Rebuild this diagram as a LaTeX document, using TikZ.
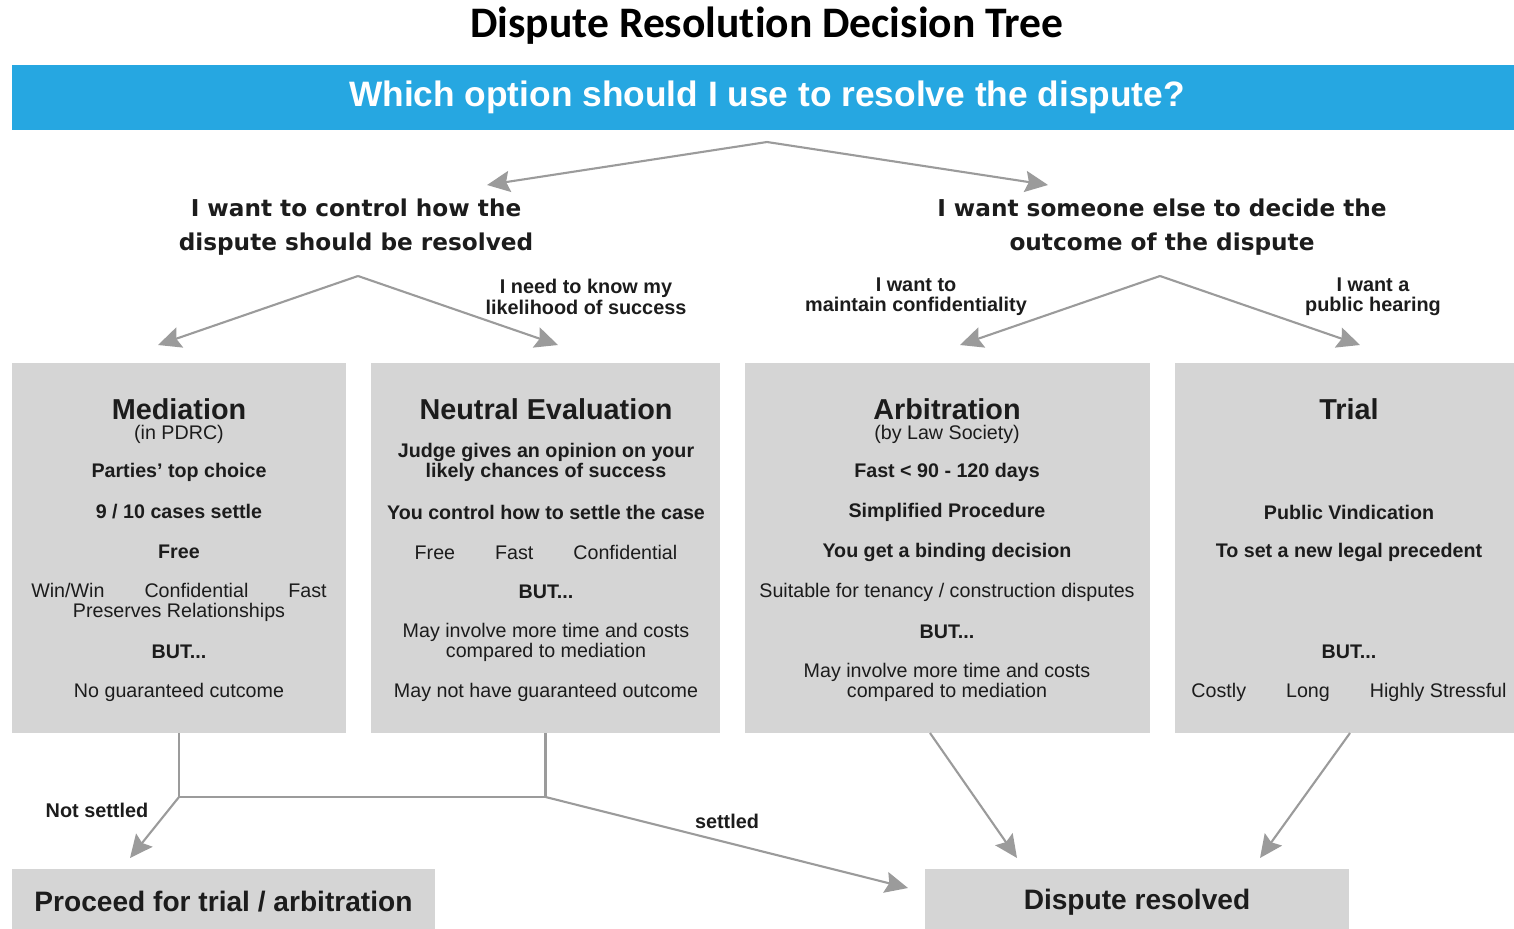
\documentclass[tikz,border=0pt]{standalone}
\usepackage{fontspec}
\setmainfont{Liberation Sans}
\newfontfamily\headfont[Ligatures=CommonOff]{Carlito}
\newfontfamily\askfont{DejaVu Sans}
\usetikzlibrary{arrows.meta}
\definecolor{banner}{RGB}{38,167,225}
\definecolor{panel}{RGB}{213,213,213}
\definecolor{link}{RGB}{155,155,155}
\definecolor{ink}{RGB}{28,28,28}
\newcommand{\gap}{\hspace{0.8cm}}

\begin{document}
\begin{tikzpicture}[x=0.02cm,y=-0.02cm]
\tikzset{
  panelbox/.style={fill=panel,inner sep=0pt},
  head/.style={font=\fontsize{16.4}{18}\selectfont\bfseries,text=ink,inner sep=0pt},
  body/.style={font=\fontsize{11.2}{11.4}\selectfont,align=center,text=ink,inner sep=0pt},
  bodyb/.style={body,font=\fontsize{11.2}{11.4}\selectfont\bfseries},
  ask/.style={font=\askfont\fontsize{13.2}{19.3}\selectfont\bfseries,align=center,text=ink,inner sep=0pt},
  tag/.style={font=\fontsize{11.3}{11.5}\selectfont\bfseries,align=center,text=ink,inner sep=0pt},
  endbox/.style={panelbox,minimum height=1.32cm,font=\fontsize{16}{18}\selectfont\bfseries,text=ink},
  arr/.style={draw=link,line width=1.2pt,-{Stealth[length=13pt,width=12pt,inset=2pt]}},
  ln/.style={draw=link,line width=1.2pt}
}
\useasboundingbox (0,0) rectangle (1514,929);

\node[font=\headfont\fontsize{24.8}{26}\selectfont\bfseries] (title) at (767,26) {Dispute Resolution Decision Tree};
\node[fill=banner,minimum width=30.2cm,minimum height=1.3cm,text=white,font=\fontsize{20.1}{22}\selectfont\bfseries] (ban) at (767,97.5) {Which option should I use to resolve the dispute?};

\node[ask] (ctrl) at (356,227) {I want to control how the\\dispute should be resolved};
\node[ask] (other) at (1162,227) {I want someone else to decide the\\outcome of the dispute};

\coordinate (split) at (767,142);
\coordinate (toCtrl) at (487,185);
\coordinate (toOther) at (1048,185);
\coordinate (ctrlFork) at (358,276);
\coordinate (otherFork) at (1160,276);
\coordinate (toMed) at (158,345);
\coordinate (toNeu) at (558,345);
\coordinate (toArb) at (960,345);
\coordinate (toTri) at (1360,345);

\node[tag] (know) at (586,297) {I need to know my\\likelihood of success};
\node[tag] (conf) at (916,297) {I want to\\maintain confidentiality};
\node[tag] (pub) at (1373,297) {I want a\\public hearing};

% option panels
\node[panelbox,minimum width=6.68cm,minimum height=7.4cm] (med) at (179,548) {};
\node[panelbox,minimum width=6.98cm,minimum height=7.4cm] (neu) at (545.5,548) {};
\node[panelbox,minimum width=8.1cm,minimum height=7.4cm] (arb) at (947.5,548) {};
\node[panelbox,minimum width=6.96cm,minimum height=7.4cm] (tri) at (1349,548) {};

\node[head] (medH) at (179,409) {Mediation};
\node[head] (neuH) at (546,409) {Neutral Evaluation};
\node[head] (arbH) at (947,409) {Arbitration};
\node[head] (triH) at (1349,409) {Trial};

\foreach \yy/\txt/\st [count=\i] in {434/{(in PDRC)}/body,472/{Parties' top choice}/bodyb,512/{9 / 10 cases settle}/bodyb,552/{Free}/bodyb,602/{Win/Win\gap Confidential\gap Fast\\Preserves Relationships}/body,652/{BUT...}/bodyb,692/{No guaranteed cutcome}/body}
  \node[\st] (med\i) at (179,\yy) {\txt};
\foreach \yy/\txt/\st [count=\i] in {462/{Judge gives an opinion on your\\likely chances of success}/bodyb,512/{You control how to settle the case}/bodyb,552/{Free\gap Fast\gap Confidential}/body,592/{BUT...}/bodyb,642/{May involve more time and costs\\compared to mediation}/body,692/{May not have guaranteed outcome}/body}
  \node[\st] (neu\i) at (546,\yy) {\txt};
\foreach \yy/\txt/\st [count=\i] in {434/{(by Law Society)}/body,472/{Fast < 90 - 120 days}/bodyb,512/{Simplified Procedure}/bodyb,552/{You get a binding decision}/bodyb,592/{Suitable for tenancy / construction disputes}/body,632/{BUT...}/bodyb,682/{May involve more time and costs\\compared to mediation}/body}
  \node[\st] (arb\i) at (947,\yy) {\txt};
\foreach \yy/\txt/\st [count=\i] in {512/{Public Vindication}/bodyb,552/{To set a new legal precedent}/bodyb,652/{BUT...}/bodyb,692/{Costly\gap Long\gap Highly Stressful}/body}
  \node[\st] (tri\i) at (1349,\yy) {\txt};

\node[endbox,minimum width=8.46cm] (proc) at (223.5,902) {Proceed for trial / arbitration};
\node[endbox,minimum width=8.48cm] (res) at (1137,902) {Dispute resolved};

\coordinate (medFork) at (179,797);
\coordinate (neuFork) at (545.5,797);
\coordinate (toProc) at (130,858);
\coordinate (toRes) at (908,888);
\coordinate (arbOut) at (930,733);
\coordinate (triOut) at (1350,733);
\coordinate (arbDown) at (1017,858);
\coordinate (triDown) at (1260,858);

\node[tag] (notset) at (97,810) {Not settled};
\node[tag] (set) at (727,821) {settled};

\foreach \a/\b in {split/toCtrl,split/toOther,ctrlFork/toMed,ctrlFork/toNeu,otherFork/toArb,otherFork/toTri,medFork/toProc,neuFork/toRes,arbOut/arbDown,triOut/triDown} \draw[arr] (\a)--(\b);
\draw[ln] (med.south) -- (medFork) -- (neuFork) -- (neu.south);
\end{tikzpicture}
\end{document}
